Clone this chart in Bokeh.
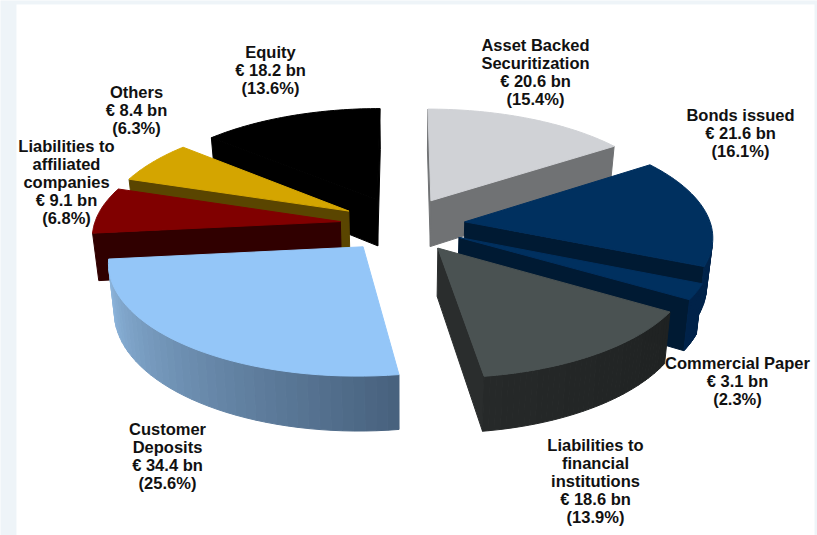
import numpy as np
from bokeh.plotting import figure
from bokeh.models import Range1d
from bokeh.core.properties import value
from bokeh.embed import file_html
from bokeh.resources import INLINE

# ---- data, clockwise from 12 o'clock ----
names = ["Asset Backed\nSecuritization", "Bonds issued", "Commercial Paper",
         "Liabilities to\nfinancial\ninstitutions", "Customer\nDeposits",
         "Liabilities to\naffiliated\ncompanies", "Others", "Equity"]
amounts = [20.6, 21.6, 3.1, 18.6, 34.4, 9.1, 8.4, 18.2]
percents = [15.4, 16.1, 2.3, 13.9, 25.6, 6.8, 6.3, 13.6]

# ---- styles ----
top_colors = ["#d0d2d6", "#00305f", "#00305f", "#4a5252", "#94c6f8", "#800000", "#d4a500", "#000000"]
radial_colors = ["#707274", "#001a33", "#001a33", "#2a2d2d", "#4a6685", "#300000", "#5a4500", "#000000"]
arc_start_colors = ["#707274", "#00234a", "#00234a", "#1f2222", "#48627e", "#4a0000", "#5a4500", "#000000"]
arc_end_colors = ["#707274", "#00234a", "#00234a", "#262929", "#8fb8e0", "#4a0000", "#5a4500", "#000000"]
draw_order = [7, 0, 6, 5, 1, 2, 3, 4]
label_x = [535, 740, 737, 595, 167, 66, 136, 270]
label_y = [71, 132, 380, 480, 455, 181, 109, 69]

# ---- projection of the tilted pie to the page ----
CX, CY, AX, BY, PERSP = 402.0, 224.0, 246.0, 108.0, 0.12
DEPTH, SHRINK, EXPLODE = 47.0, 0.98, 0.255
W, H = 817, 535


def project(a, b, bottom=False):
    a, b = np.asarray(a, float), np.asarray(b, float)
    w = 1 + PERSP * b
    u = CX + AX * a / w
    v = CY - BY * b / w
    if bottom:
        u = CX + (u - CX) * SHRINK
        v = v + DEPTH / w
    return u, v


def hex_mix(c1, c2, t):
    r1 = [int(c1[i:i + 2], 16) for i in (1, 3, 5)]
    r2 = [int(c2[i:i + 2], 16) for i in (1, 3, 5)]
    return "#%02x%02x%02x" % tuple(int(round(x + (y - x) * t)) for x, y in zip(r1, r2))


total = sum(percents)
edges = np.radians(np.concatenate([[0], np.cumsum(percents)]) / total * 360)

xs, ys, cols = [], [], []


def add_face(pa, pb, color):
    """Side wall from pa to pb (clockwise seen from above); keep it when it faces the viewer."""
    ut, vt = project([pa[0], pb[0]], [pa[1], pb[1]])
    ub, vb = project([pa[0], pb[0]], [pa[1], pb[1]], bottom=True)
    qx = [ut[0], ut[1], ub[1], ub[0]]
    qy = [vt[0], vt[1], vb[1], vb[0]]
    area = sum(qx[i] * qy[(i + 1) % 4] - qx[(i + 1) % 4] * qy[i] for i in range(4))
    if area < 0:
        xs.append(qx)
        ys.append(qy)
        cols.append(color)


for i in draw_order:
    t0, t1 = edges[i], edges[i + 1]
    mid = (t0 + t1) / 2
    ox, oy = EXPLODE * np.sin(mid), EXPLODE * np.cos(mid)
    th = np.linspace(t0, t1, 41)
    arc_a, arc_b = ox + np.sin(th), oy + np.cos(th)
    apex = (ox, oy)
    add_face(apex, (arc_a[0], arc_b[0]), radial_colors[i])
    add_face((arc_a[-1], arc_b[-1]), apex, radial_colors[i])
    for k in range(len(th) - 1):
        add_face((arc_a[k], arc_b[k]), (arc_a[k + 1], arc_b[k + 1]),
                 hex_mix(arc_start_colors[i], arc_end_colors[i], k / (len(th) - 2)))
    u, v = project(np.r_[ox, arc_a], np.r_[oy, arc_b])
    xs.append(list(u))
    ys.append(list(v))
    cols.append(top_colors[i])

p = figure(width=W, height=H, output_backend="svg", toolbar_location=None,
           x_range=Range1d(0, W), y_range=Range1d(H, 0), min_border=0,
           x_axis_type=None, y_axis_type=None, outline_line_color=None,
           background_fill_color="#eef4f8", border_fill_color="#eef4f8")
p.grid.visible = False

# white slide panel
p.quad(left=[16], right=[814], bottom=[H], top=[4], fill_color="#ffffff", line_color=None)
p.patches(xs, ys, fill_color=cols, line_color=cols, line_width=1)

labels = [f"{n}\n€ {a} bn\n({q}%)" for n, a, q in zip(names, amounts, percents)]
p.text(label_x, label_y, text=labels, text_align="center", text_baseline="middle",
       text_font=value("Liberation Sans"), text_font_style="bold", text_font_size="16.5px",
       text_color="#111111", text_line_height=1.0)
open("out.html", "w").write(file_html(p, INLINE))
